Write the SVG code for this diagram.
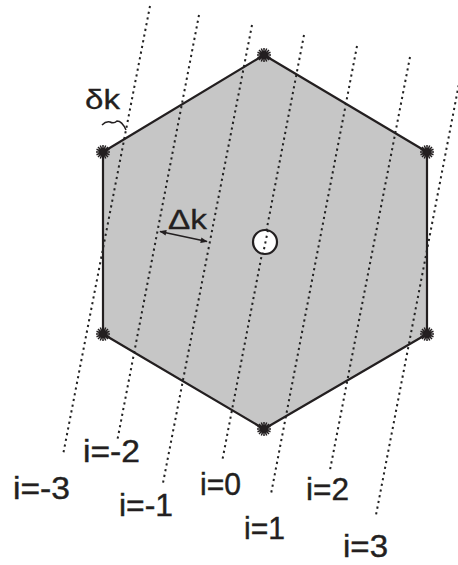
<svg xmlns="http://www.w3.org/2000/svg" width="458" height="565" viewBox="0 0 458 565">
<style>
  .hex { fill: #c6c6c6; stroke: #231f20; stroke-width: 2.2; stroke-linejoin: round; }
  .dot { fill: none; stroke: #222; stroke-width: 2; stroke-dasharray: 2.2 3.6; }
  .lbl { font-family: "Liberation Sans", Arial, sans-serif; font-size: 31px; fill: #231f20; stroke: #231f20; stroke-width: 0.4; }
  .sym { font-family: "Liberation Sans", Arial, sans-serif; font-size: 27px; fill: #231f20; stroke: #231f20; stroke-width: 0.3; }
  .star { stroke: #231f20; stroke-width: 1.5; fill: none; }
</style>
<defs>
  <g id="starShape">
    <path class="star" d="M-7,0 H7 M0,-7 V7 M-5,-5 L5,5 M-5,5 L5,-5 M-6.5,-2.7 L6.5,2.7 M-6.5,2.7 L6.5,-2.7 M-2.7,-6.5 L2.7,6.5 M-2.7,6.5 L2.7,-6.5"/>
    <circle r="2.8" fill="#231f20"/>
  </g>
  <marker id="ah" viewBox="0 0 10 10" refX="9" refY="5" markerWidth="8" markerHeight="7" orient="auto-start-reverse" markerUnits="userSpaceOnUse">
    <path d="M0,1 L10,5 L0,9 Z" fill="#231f20"/>
  </marker>
</defs>

<g id="hexagon">
  <polygon class="hex" points="264,55 427,152 427,334 264,429 103,334 103,152"/>
  <use href="#starShape" x="264" y="55"/>
  <use href="#starShape" x="427" y="152"/>
  <use href="#starShape" x="427" y="334"/>
  <use href="#starShape" x="264" y="429"/>
  <use href="#starShape" x="103" y="334"/>
  <use href="#starShape" x="103" y="152"/>
</g>

<g id="lines">
  <line class="dot" x1="150" y1="6" x2="63" y2="455"/>
  <line class="dot" x1="199" y1="15" x2="117" y2="442"/>
  <line class="dot" x1="252" y1="25" x2="163" y2="483"/>
  <line class="dot" x1="304" y1="35" x2="222" y2="462"/>
  <line class="dot" x1="357" y1="46" x2="271" y2="494"/>
  <line class="dot" x1="410" y1="57" x2="330" y2="470"/>
  <line class="dot" x1="462" y1="68" x2="376" y2="515"/>
</g>

<g id="origin">
  <circle cx="265" cy="242" r="12" fill="#ffffff" stroke="#231f20" stroke-width="2.2"/>
  <line class="dot" x1="268" y1="230" x2="263" y2="254"/>
</g>

<g id="delta-k">
  <line x1="160" y1="231.5" x2="207" y2="241.5" stroke="#231f20" stroke-width="1.6" marker-start="url(#ah)" marker-end="url(#ah)"/>
  <text class="sym" x="168" y="229" textLength="39" lengthAdjust="spacingAndGlyphs">Δk</text>
</g>

<g id="small-delta-k">
  <text class="sym" x="85" y="109" textLength="35" lengthAdjust="spacingAndGlyphs">δk</text>
  <path d="M102,125 Q106,121 110,122 Q114,124 117,121 Q122,121 126,130" fill="none" stroke="#231f20" stroke-width="1.5"/>
</g>

<g id="labels">
  <text class="lbl" x="13" y="499" textLength="57" lengthAdjust="spacingAndGlyphs">i=-3</text>
  <text class="lbl" x="83" y="462" textLength="57" lengthAdjust="spacingAndGlyphs">i=-2</text>
  <text class="lbl" x="119" y="516" textLength="54" lengthAdjust="spacingAndGlyphs">i=-1</text>
  <text class="lbl" x="200" y="495" textLength="41" lengthAdjust="spacingAndGlyphs">i=0</text>
  <text class="lbl" x="244" y="539" textLength="41" lengthAdjust="spacingAndGlyphs">i=1</text>
  <text class="lbl" x="306" y="500" textLength="43" lengthAdjust="spacingAndGlyphs">i=2</text>
  <text class="lbl" x="343" y="557" textLength="45" lengthAdjust="spacingAndGlyphs">i=3</text>
</g>
</svg>
